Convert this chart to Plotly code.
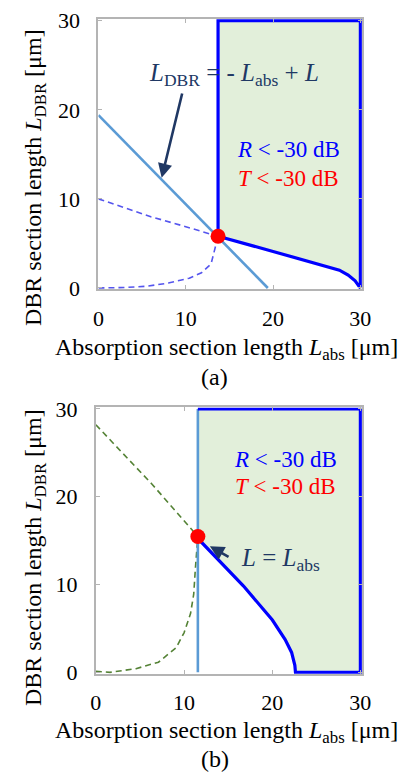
import plotly.graph_objects as go

# ---------------- data: panel (a) ----------------
a_guide_x = [0.0, 19.4]            # L_DBR = -L_abs + L
a_guide_y = [19.4, 0.0]
a_opt_x = [13.7]                   # optimum point
a_opt_y = [5.8]
a_edge_x = [13.7, 20.0, 27.6, 28.6, 29.4, 29.85, 30.0]   # lower edge of the R,T < -30 dB region
a_edge_y = [5.8, 4.1, 2.0, 1.45, 0.8, 0.18, 0.0]
a_upper_x = [0.0, 6.0, 10.0, 13.7]
a_upper_y = [10.0, 8.0, 6.88, 5.8]
a_lower_x = [0.0, 3.0, 5.6, 8.0, 10.4, 11.8, 12.9, 13.3, 13.55, 13.7]
a_lower_y = [0.0, 0.05, 0.2, 0.55, 1.1, 1.7, 2.7, 4.3, 5.1, 5.8]

# ---------------- data: panel (b) ----------------
b_vline_x = [11.57, 11.57]         # L = L_abs
b_vline_y = [0.0, 30.0]
b_opt_x = [11.57]
b_opt_y = [15.48]
b_edge_x = [11.57, 12.0, 16.75, 20.02, 21.47, 22.2, 22.57, 22.64, 30.0]
b_edge_y = [15.48, 14.8, 9.83, 5.96, 3.74, 2.27, 0.8, 0.0, 0.0]
b_upper_x = [0.0, 6.4, 11.57]
b_upper_y = [28.2, 21.4, 15.48]
b_lower_x = [0.0, 1.6, 4.55, 7.1, 9.1, 10.0, 10.74, 11.1, 11.29, 11.47, 11.57]
b_lower_y = [0.13, 0.0, 0.42, 1.16, 2.8, 4.5, 6.7, 8.9, 11.87, 14.45, 15.48]

AX_MAX = 30.0
tick_vals = [0, 10, 20, 30]

# ---------------- styling ----------------
W, H = 405, 782
FONT = "'Liberation Serif', 'Times New Roman', 'DejaVu Serif', serif"
NAVY = "#203864"
BLUE = "#0000ff"
RED = "#ff0000"
LIGHTBLUE = "#5b9bd5"
FILL = "#e2efda"
AXGRAY = "#b4b4b4"
PAD = 0.17


def xdom(p0, p30):
    ppu = (p30 - p0) / 30.0
    return [p0 / W, (p30 + PAD * ppu) / W]


def ydom(p0, p30):
    ppu = (p0 - p30) / 30.0
    return [1 - (p0 + PAD * ppu) / H, 1 - (p30 - PAD * ppu) / H]


fig = go.Figure()


def add_panel(xa, ya, left_x, left_y_low, edge_x, edge_y, upper, lower, dash_color, closed_left):
    # shaded region
    fx = [left_x, AX_MAX] + edge_x[::-1]
    fy = [AX_MAX, AX_MAX] + edge_y[::-1]
    fig.add_trace(go.Scatter(x=fx, y=fy, mode="lines", fill="toself", fillcolor=FILL,
                             line=dict(width=0), xaxis=xa, yaxis=ya, hoverinfo="skip"))
    # dashed curves
    for (cx, cy) in (upper, lower):
        fig.add_trace(go.Scatter(x=cx, y=cy, mode="lines",
                                 line=dict(color=dash_color, width=1.6, dash="6px,4px"),
                                 xaxis=xa, yaxis=ya, hoverinfo="skip"))
    # region boundary
    if closed_left:
        bx = [left_x, left_x, AX_MAX] + edge_x[::-1]
        by = [left_y_low, AX_MAX, AX_MAX] + edge_y[::-1]
    else:
        bx = [left_x, AX_MAX] + edge_x[::-1]
        by = [AX_MAX, AX_MAX] + edge_y[::-1]
    return bx, by


# panel (a)
bx, by = add_panel("x", "y", a_edge_x[0], a_edge_y[0], a_edge_x, a_edge_y,
                   (a_upper_x, a_upper_y), (a_lower_x, a_lower_y), "#5555ee", True)
fig.add_trace(go.Scatter(x=a_guide_x, y=a_guide_y, mode="lines",
                         line=dict(color=LIGHTBLUE, width=2.6), xaxis="x", yaxis="y"))
fig.add_trace(go.Scatter(x=bx, y=by, mode="lines", line=dict(color=BLUE, width=3.2),
                         xaxis="x", yaxis="y"))
fig.add_trace(go.Scatter(x=a_opt_x, y=a_opt_y, mode="markers", cliponaxis=False,
                         marker=dict(color=RED, size=15), xaxis="x", yaxis="y"))

# panel (b)
bx, by = add_panel("x2", "y2", b_edge_x[0], b_edge_y[0], b_edge_x, b_edge_y,
                   (b_upper_x, b_upper_y), (b_lower_x, b_lower_y), "#548235", False)
fig.add_trace(go.Scatter(x=b_vline_x, y=b_vline_y, mode="lines",
                         line=dict(color=LIGHTBLUE, width=2.6), xaxis="x2", yaxis="y2"))
fig.add_trace(go.Scatter(x=bx, y=by, mode="lines", line=dict(color=BLUE, width=3.2),
                         xaxis="x2", yaxis="y2"))
fig.add_trace(go.Scatter(x=b_opt_x, y=b_opt_y, mode="markers", cliponaxis=False,
                         marker=dict(color=RED, size=15), xaxis="x2", yaxis="y2"))

axis_common = dict(
    tickvals=tick_vals, ticks="inside", ticklen=4, tickwidth=1, tickcolor=AXGRAY,
    showline=True, linecolor=AXGRAY, linewidth=2, mirror="ticks",
    showgrid=False, zeroline=False,
    tickfont=dict(family=FONT, size=22, color="black"),
)

fig.update_layout(
    width=W, height=H, margin=dict(l=0, r=0, t=0, b=0),
    paper_bgcolor="white", plot_bgcolor="white", showlegend=False,
    font=dict(family=FONT),
    xaxis=dict(domain=xdom(96, 368), range=[0, AX_MAX + PAD], anchor="y",
               ticklabelstandoff=8, **axis_common),
    yaxis=dict(domain=ydom(285, 10), range=[-PAD, AX_MAX + PAD], anchor="x",
               ticklabelstandoff=12, **axis_common),
    xaxis2=dict(domain=xdom(93.3, 368), range=[0, AX_MAX + PAD], anchor="y2",
                ticklabelstandoff=8, **axis_common),
    yaxis2=dict(domain=ydom(680.5, 409.5), range=[-PAD, AX_MAX + PAD], anchor="x2",
                ticklabelstandoff=12, **axis_common),
)

ann = []
f_title = dict(family=FONT, size=24, color="black")
ytitle = "DBR section length <i>L</i><sub>DBR</sub> [μm]"
xtitle = "Absorption section length <i>L</i><sub>abs</sub> [μm]"
for ty, xy, lab, ly in ((171, 348, "(a)", 377), (562, 742, "(b)", 770)):
    ann.append(dict(text=ytitle, x=30 / W, y=1 - ty / H, xref="paper", yref="paper",
                    textangle=-90, showarrow=False, font=f_title,
                    xanchor="center", yanchor="middle"))
    ann.append(dict(text=xtitle, x=229 / W, y=1 - xy / H, xref="paper", yref="paper",
                    showarrow=False, font=f_title, xanchor="center", yanchor="middle"))
    ann.append(dict(text=lab, x=217 / W, y=1 - ly / H, xref="paper", yref="paper",
                    showarrow=False, font=f_title, xanchor="center", yanchor="middle"))

f_big = dict(family=FONT, size=25, color=NAVY)
f_blue = dict(family=FONT, size=23, color=BLUE)
f_red = dict(family=FONT, size=23, color=RED)

# panel (a) labels
ann.append(dict(text="<i>L</i><sub>DBR</sub> = - <i>L</i><sub>abs</sub> + <i>L</i>",
                x=5.6, y=24.0, xref="x", yref="y", showarrow=False, font=f_big,
                xanchor="left", yanchor="middle"))
ann.append(dict(text="", x=7.24, y=12.36, ax=9.63, ay=22.0, xref="x", yref="y",
                axref="x", ayref="y", showarrow=True, arrowhead=2, arrowsize=1.1,
                arrowwidth=2.6, arrowcolor=NAVY, standoff=0))
ann.append(dict(text="<i>R</i> < -30 dB", x=21.8, y=15.5, xref="x", yref="y",
                showarrow=False, font=f_blue))
ann.append(dict(text="<i>T</i> < -30 dB", x=21.8, y=12.3, xref="x", yref="y",
                showarrow=False, font=f_red))

# panel (b) labels
ann.append(dict(text="<i>R</i> < -30 dB", x=21.5, y=24.2, xref="x2", yref="y2",
                showarrow=False, font=f_blue))
ann.append(dict(text="<i>T</i> < -30 dB", x=21.5, y=21.2, xref="x2", yref="y2",
                showarrow=False, font=f_red))
ann.append(dict(text="<i>L</i> = <i>L</i><sub>abs</sub>", x=16.2, y=12.8,
                xref="x2", yref="y2", showarrow=False, font=f_big,
                xanchor="left", yanchor="middle"))
ann.append(dict(text="", x=12.93, y=14.37, ax=15.22, ay=13.05, xref="x2", yref="y2",
                axref="x2", ayref="y2", showarrow=True, arrowhead=2, arrowsize=1.1,
                arrowwidth=2.6, arrowcolor=NAVY, standoff=0))

fig.update_layout(annotations=ann)
fig.write_html("out.html")
